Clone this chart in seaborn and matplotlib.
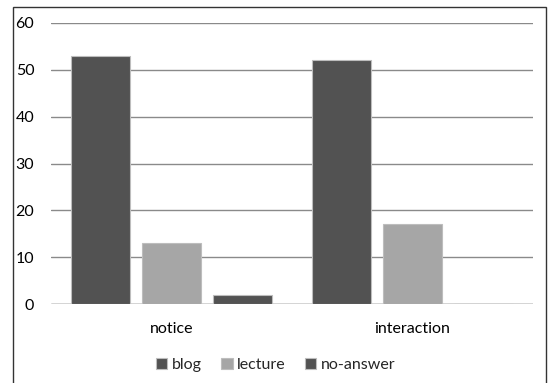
import matplotlib
matplotlib.use("Agg")
import matplotlib.pyplot as plt
import seaborn as sns
import pandas as pd
from matplotlib.patches import Rectangle

categories = ["notice", "interaction"]
series = ["blog", "lecture", "no-answer"]
blog = [53, 52]
lecture = [13, 17]
no_answer = [2, 0]
yticks = [0, 10, 20, 30, 40, 50, 60]

rows = []
for i, c in enumerate(categories):
    rows.append((c, "blog", blog[i]))
    rows.append((c, "lecture", lecture[i]))
    rows.append((c, "no-answer", no_answer[i]))
df = pd.DataFrame(rows, columns=["category", "series", "value"])

sns.set_theme(style="white")
plt.rcParams["font.family"] = ["Lato", "DejaVu Sans"]

W, H = 552, 383
fig = plt.figure(figsize=(W / 100, H / 100), dpi=100)
ax = fig.add_axes([51 / W, 1 - 304 / H, (533 - 51) / W, (304 - 23) / H])

palette = {"blog": "#525252", "lecture": "#a6a6a6", "no-answer": "#525252"}
sns.barplot(data=df, x="category", y="value", hue="series", order=categories,
            hue_order=series, palette=palette, width=0.885, gap=0.18,
            edgecolor="#bdbdbd", linewidth=0.8, ax=ax, zorder=3, legend=True)

ax.set_ylim(0, 60)
ax.set_yticks(yticks)
ax.set_xlim(-0.5, 1.5)
ax.yaxis.grid(True, color="#8a8a8a", linewidth=1.0, zorder=0)
ax.set_axisbelow(True)
for s in ["top", "right", "left", "bottom"]:
    ax.spines[s].set_visible(False)
ax.axhline(0, color="#8a8a8a", linewidth=1.0, zorder=1)
ax.set_xlabel("")
ax.set_ylabel("")
ax.tick_params(axis="y", length=0, pad=12, labelsize=11.5, colors="#000000")
ax.tick_params(axis="x", length=0, pad=13, labelsize=11.5, colors="#000000")

h, l = ax.get_legend_handles_labels()
ax.get_legend().remove()
fig.legend(h, l, loc="center", bbox_to_anchor=(0.5, 1 - 365 / H), ncol=3,
           frameon=False, fontsize=11.5, handlelength=0.7, handleheight=0.7,
           handletextpad=0.3, columnspacing=1.2)

fig.patches.append(Rectangle((13 / W, -0.05), (546 - 13) / W, 1.05 - 7 / H,
                             transform=fig.transFigure, fill=False,
                             edgecolor="#333333", linewidth=1.0))

fig.savefig("out.png", dpi=100, facecolor="white")
